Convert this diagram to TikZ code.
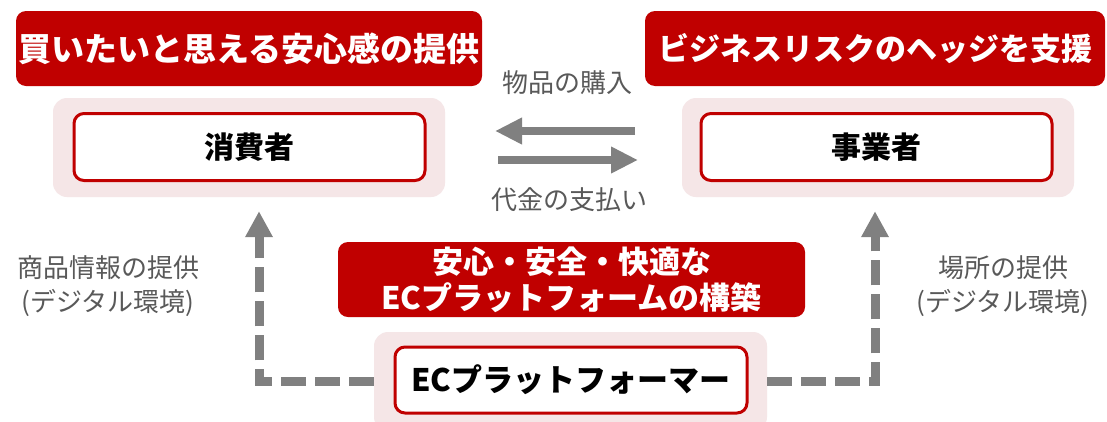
\documentclass[tikz,border=0pt]{standalone}
\usepackage{fontspec}
\setmainfont{Noto Sans CJK JP}
\usetikzlibrary{arrows.meta}
\definecolor{ecred}{HTML}{C00000}
\definecolor{ecpink}{HTML}{F5E6E7}
\definecolor{ecgray}{HTML}{808080}
\definecolor{ectext}{HTML}{595959}
\tikzset{
  banner/.style={fill=ecred, rounded corners=10pt, text=white, inner sep=0pt,
    align=center, font=\bfseries\fontsize{31}{36}\selectfont},
  backbox/.style={fill=ecpink, rounded corners=14pt, inner sep=0pt,
    minimum width=392pt, minimum height=99pt},
  actor/.style={draw=ecred, line width=3pt, fill=white, rounded corners=10pt,
    inner sep=0pt, minimum width=351pt, minimum height=67pt,
    font=\bfseries\fontsize{30}{36}\selectfont},
  note/.style={text=ectext, align=center, inner sep=0pt,
    font=\fontsize{26}{34}\selectfont},
  flow/.style={ecgray, line width=8pt, -{Triangle[length=27pt,width=25pt]}},
  support/.style={ecgray, line width=9pt, dash pattern=on 25pt off 9pt,
    -{Triangle[length=26pt,width=26pt]}, shorten >=14pt},
}
\begin{document}
\begin{tikzpicture}[x=1pt,y=-1pt]
\useasboundingbox[fill=white] (0,0) rectangle (1107,421);
% top banners
\node[banner, minimum width=466pt, minimum height=75pt] (conbanner) at (249,48.5)
  {\fontsize{33}{38}\selectfont 買いたいと思える安心感の提供};
\node[banner, minimum width=460pt, minimum height=75pt] (bizbanner) at (875,48.5)
  {ビジネスリスクのヘッジを支援};
% consumer and business
\node[backbox] (conbg) at (249,147.5) {};
\node[actor] (con) at (249.5,147) {消費者};
\node[backbox] (bizbg) at (878,147.5) {};
\node[actor] (biz) at (876.5,147) {事業者};
% exchange between them
\node[note] (buy) at (567,83) {物品の購入};
\node[note] (pay) at (569,200) {代金の支払い};
\coordinate (buyfrom) at (635,131);
\coordinate (buyto) at (495,131);
\coordinate (payfrom) at (498,160);
\coordinate (payto) at (638,160);
\draw[flow] (buyfrom) -- (buyto);
\draw[flow] (payfrom) -- (payto);
% platform
\node[banner, minimum width=467pt, minimum height=75pt] (ecbanner) at (571.5,279.5)
  {安心・安全・快適な\\ECプラットフォームの構築};
\node[backbox, minimum width=393pt] (pfbg) at (570.5,381.5) {};
\node[actor, minimum width=352pt, minimum height=66pt] (pf) at (571,380)
  {\fontsize{31}{36}\selectfont ECプラットフォーマー};
% digital environment
\draw[support] (pfbg.west) -| ([xshift=10pt]conbg.south);
\draw[support] (pfbg.east) -| ([xshift=-3pt]bizbg.south);
\node[note] (info) at (108,286) {商品情報の提供\\(デジタル環境)};
\node[note] (place) at (1003,286) {場所の提供\\(デジタル環境)};
\end{tikzpicture}
\end{document}
